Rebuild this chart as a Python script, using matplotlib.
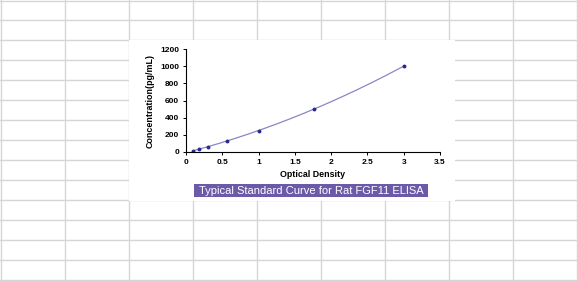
import matplotlib
matplotlib.use("Agg")
import matplotlib.pyplot as plt
from matplotlib.patches import Rectangle
import numpy as np

# standard curve points
od = [0.095, 0.176, 0.30, 0.56, 1.0, 1.76, 3.0]
conc = [15.6, 31.25, 62.5, 125, 250, 500, 1000]
x_ticks = [0, 0.5, 1, 1.5, 2, 2.5, 3, 3.5]
x_tick_labels = ["0", "0.5", "1", "1.5", "2", "2.5", "3", "3.5"]
y_ticks = [0, 200, 400, 600, 800, 1000, 1200]

W, H = 577, 281
plt.rcParams["font.family"] = ["Liberation Sans", "DejaVu Sans"]
fig = plt.figure(figsize=(W / 100, H / 100), dpi=100)

# spreadsheet background
bg = fig.add_axes([0, 0, 1, 1])
bg.set_xlim(0, W); bg.set_ylim(H, 0); bg.axis("off")
for cx in [0.5, 65, 129, 193, 257, 321, 385, 449, 513, 576.5]:
    bg.axvline(cx, color="#d6d6d6", lw=1)
for ry in range(20, H, 20):
    bg.axhline(ry, color="#d6d6d6", lw=1)
bg.axhline(0.5, color="#d6d6d6", lw=1)
bg.add_patch(Rectangle((129, 40), 326, 161, facecolor="white", edgecolor="none", zorder=3))
bg.add_patch(Rectangle((194, 184), 234, 13, facecolor="#6b5aa8", edgecolor="none", zorder=4))
bg.text(311, 190.8, "Typical Standard Curve for Rat FGF11 ELISA", color="white",
        fontsize=8, ha="center", va="center", zorder=5)

ax = fig.add_axes([186 / W, 1 - 152 / H, 254 / W, 103 / H])
ax.patch.set_alpha(0)
fit = np.polyfit(od, conc, 2)
xs = np.linspace(min(od), max(od), 200)
ax.plot(xs, np.polyval(fit, xs), color="#8a86c8", lw=0.9)
ax.plot(od, conc, "o", color="#2a2a8a", ms=1.8, mec="#2a2a8a")
ax.set_xlim(0, 3.5); ax.set_ylim(0, 1200)
ax.set_xticks(x_ticks); ax.set_xticklabels(x_tick_labels)
ax.set_yticks(y_ticks)
for s in ["top", "right"]:
    ax.spines[s].set_visible(False)
for s in ["left", "bottom"]:
    ax.spines[s].set_linewidth(0.8)
ax.tick_params(labelsize=6, length=2.5, width=0.7, pad=2.5)
for lab in ax.get_xticklabels() + ax.get_yticklabels():
    lab.set_fontweight("bold")
ax.set_xlabel("Optical Density", fontsize=6.4, fontweight="bold", labelpad=3)
ax.set_ylabel("Concentration(pg/mL)", fontsize=6.4, fontweight="bold", labelpad=4)

fig.savefig("out.png", dpi=100)
